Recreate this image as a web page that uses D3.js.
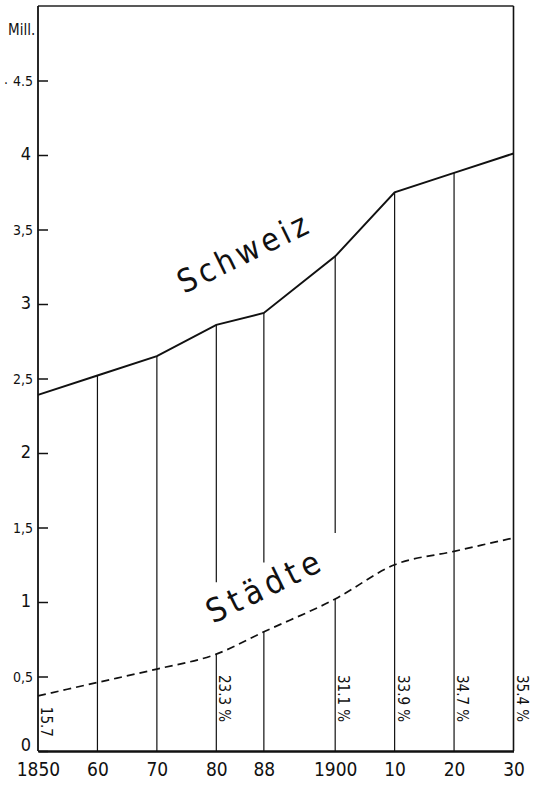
<!DOCTYPE html>
<html>
<head>
<meta charset="utf-8">
<script src="https://cdn.jsdelivr.net/npm/d3@7"></script>
<style>
  body { margin: 0; background: #fff; }
  svg { display: block; }
  text { fill: #111; font-family: "Liberation Sans Narrow", "DejaVu Sans Condensed", sans-serif; }
</style>
</head>
<body>
<div id="chart"></div>
<script>
// Data
const years = [1850, 1860, 1870, 1880, 1888, 1900, 1910, 1920, 1930];
const schweiz = [2.39, 2.52, 2.65, 2.86, 2.94, 3.32, 3.75, 3.88, 4.01];
const staedte = [0.37, 0.46, 0.55, 0.65, 0.80, 1.02, 1.25, 1.34, 1.43];
const yearLabels = ['1850', '60', '70', '80', '88', '1900', '10', '20', '30'];
const yTicks = [0, 0.5, 1, 1.5, 2, 2.5, 3, 3.5, 4, 4.5];
const yTickLabels = ['0', '0,5', '1', '1,5', '2', '2,5', '3', '3,5', '4', '4.5'];
const shareYears = [1850, 1880, 1900, 1910, 1920, 1930];
const shareLabels = ['15.7', '23.3 %', '31.1 %', '33.9 %', '34.7 %', '35.4 %'];

const width = 533, height = 787;
const plot = { left: 38, right: 513.5, top: 6, bottom: 751 };

const svg = d3.select('#chart').append('svg')
    .attr('width', width)
    .attr('height', height);

const x = d3.scaleLinear().domain([1850, 1930]).range([plot.left, plot.right]);
const y = d3.scaleLinear().domain([0, 5]).range([plot.bottom, plot.top]);

// frame (top and right)
svg.append('line')
    .attr('x1', x(1850)).attr('x2', x(1930))
    .attr('y1', y(5)).attr('y2', y(5))
    .attr('stroke', '#222').attr('stroke-width', 1.4);
svg.append('line')
    .attr('x1', x(1930)).attr('x2', x(1930))
    .attr('y1', y(5)).attr('y2', y(0))
    .attr('stroke', '#111').attr('stroke-width', 1.6);

// Städte label clearance: line above the label, vertical lines stop here
const labelAngle = -26;
const staedteStart = [213, 624];
const clearTop = px => 582 + (px - 217) * (533 - 582) / (335 - 217);
const underLabel = yr => yr >= 1880 && yr <= 1900;

// year verticals
years.forEach((yr, i) => {
    if (yr === 1850 || yr === 1930) return;
    const g = svg.append('g').attr('stroke', '#111').attr('stroke-width', 1.2);
    if (underLabel(yr)) {
        g.append('line')
            .attr('x1', x(yr)).attr('x2', x(yr))
            .attr('y1', y(0)).attr('y2', y(staedte[i]));
        g.append('line')
            .attr('x1', x(yr)).attr('x2', x(yr))
            .attr('y1', clearTop(x(yr))).attr('y2', y(schweiz[i]));
    } else {
        g.append('line')
            .attr('x1', x(yr)).attr('x2', x(yr))
            .attr('y1', y(0)).attr('y2', y(schweiz[i]));
    }
});

// Schweiz line
svg.append('path')
    .datum(years.map((yr, i) => [yr, schweiz[i]]))
    .attr('fill', 'none')
    .attr('stroke', '#111')
    .attr('stroke-width', 2)
    .attr('d', d3.line().x(d => x(d[0])).y(d => y(d[1])));

// Städte line (dashed)
svg.append('path')
    .datum(years.map((yr, i) => [yr, staedte[i]]))
    .attr('fill', 'none')
    .attr('stroke', '#111')
    .attr('stroke-width', 1.7)
    .attr('stroke-dasharray', '8,5')
    .attr('d', d3.line().x(d => x(d[0])).y(d => y(d[1])).curve(d3.curveMonotoneX));

// y axis
const yAxis = svg.append('g')
    .attr('transform', `translate(${plot.left},0)`)
    .call(d3.axisRight(y).tickValues(yTicks).tickSize(10).tickFormat(''));
yAxis.select('.domain').remove();
yAxis.selectAll('line').attr('stroke', '#111').attr('stroke-width', 1.5);
svg.append('line')
    .attr('x1', plot.left).attr('x2', plot.left)
    .attr('y1', plot.top).attr('y2', plot.bottom)
    .attr('stroke', '#111').attr('stroke-width', 1.8);

svg.selectAll('.ylab')
    .data(yTicks)
    .enter()
    .append('text')
    .attr('class', 'ylab')
    .attr('x', d => Number.isInteger(d) ? 26 : 33)
    .attr('y', d => d === 0 ? y(d) : y(d) + 5)
    .attr('text-anchor', d => Number.isInteger(d) ? 'middle' : 'end')
    .style('font-size', d => Number.isInteger(d) ? '18px' : '14px')
    .text((d, i) => yTickLabels[i]);

svg.append('text')
    .attr('x', 8).attr('y', 35)
    .style('font-size', '15px')
    .text('Mill.');
svg.append('text')
    .attr('x', 4).attr('y', 84)
    .style('font-size', '14px')
    .text('.');

// x axis
const xAxis = svg.append('g')
    .attr('transform', `translate(0,${plot.bottom})`)
    .call(d3.axisBottom(x).tickValues(years).tickSize(0).tickPadding(12)
        .tickFormat((d, i) => yearLabels[i]));
xAxis.select('.domain')
    .attr('stroke', '#111').attr('stroke-width', 2.5);
xAxis.selectAll('text')
    .attr('fill', '#111')
    .style('font-family', '"Liberation Sans Narrow", "DejaVu Sans Condensed", sans-serif')
    .style('font-size', '19px')
    .attr('dy', '0.71em');

// share labels (rotated, reading downward)
svg.selectAll('.share')
    .data(shareYears)
    .enter()
    .append('text')
    .attr('class', 'share')
    .attr('transform', d => {
        const yi = years.indexOf(d);
        const ty = d === 1850 ? y(staedte[yi]) + 11 : y(0) - 76;
        return `translate(${x(d) + 3},${ty}) rotate(90)`;
    })
    .style('font-size', '15px')
    .text((d, i) => shareLabels[i]);

// series labels
svg.append('text')
    .attr('transform', `translate(184,294) rotate(${labelAngle})`)
    .style('font-size', '32px')
    .style('font-weight', '300')
    .style('letter-spacing', '4px')
    .text('Schweiz');

svg.append('text')
    .attr('transform', `translate(${staedteStart[0]},${staedteStart[1]}) rotate(${labelAngle})`)
    .style('font-size', '33px')
    .style('font-weight', '300')
    .style('letter-spacing', '5px')
    .text('Städte');
</script>
</body>
</html>
